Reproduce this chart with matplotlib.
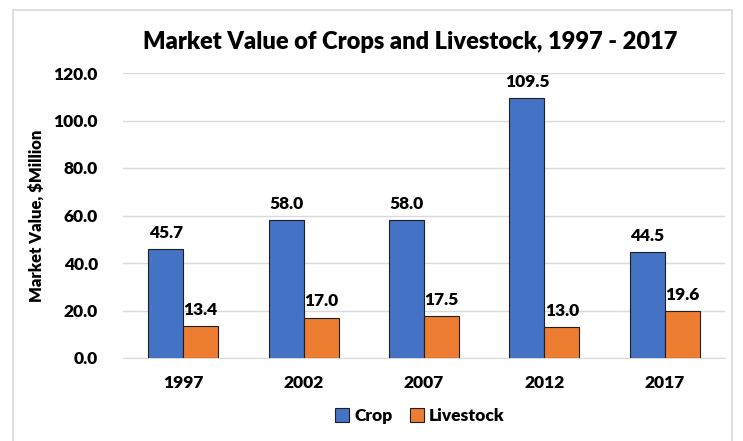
import numpy as np
import matplotlib.pyplot as plt
from matplotlib.patches import Rectangle

plt.rcParams['font.family'] = ['Lato', 'DejaVu Sans']
plt.rcParams['font.weight'] = 'bold'

years = ["1997", "2002", "2007", "2012", "2017"]
crop = [45.7, 58.0, 58.0, 109.5, 44.5]
livestock = [13.4, 17.0, 17.5, 13.0, 19.6]

fig = plt.figure(figsize=(7.43, 4.41), dpi=100)
ax = fig.add_axes([123 / 743, 1 - 358 / 441, 602 / 743, 285 / 441])

# outer light border like the source chart
fig.patches.append(Rectangle((13 / 743, -0.01), 719 / 743, 1 - 10 / 441 + 0.01,
                             transform=fig.transFigure, fill=False,
                             edgecolor="#D9D9D9", linewidth=1.2))

x = np.arange(len(years))
w = 0.29
b1 = ax.bar(x - w / 2, crop, w, color="#4472C4", edgecolor="#1F1F1F",
            linewidth=0.8, label="Crop", zorder=3)
b2 = ax.bar(x + w / 2, livestock, w, color="#ED7D31", edgecolor="#1F1F1F",
            linewidth=0.8, label="Livestock", zorder=3)

for bars, vals in ((b1, crop), (b2, livestock)):
    for r, v in zip(bars, vals):
        ax.text(r.get_x() + r.get_width() / 2, v + 3.5, f"{v:.1f}",
                ha="center", va="bottom", fontsize=12.5, fontweight="heavy")

ax.set_xlim(-0.5, 4.5)
ax.set_ylim(0, 120)
ax.set_yticks(np.arange(0, 121, 20))
ax.set_yticklabels([f"{t:.1f}" for t in np.arange(0, 121, 20)])
ax.set_xticks(x)
ax.set_xticklabels(years)
ax.tick_params(axis="both", length=0, labelsize=12.5)
for lbl in ax.get_xticklabels() + ax.get_yticklabels():
    lbl.set_fontweight("heavy")
ax.tick_params(axis="x", pad=12)
ax.tick_params(axis="y", pad=18)
ax.grid(axis="y", color="#D9D9D9", linewidth=1, zorder=0)
for s in ("top", "right", "left"):
    ax.spines[s].set_visible(False)
ax.spines["bottom"].set_color("#D9D9D9")

ax.set_ylabel("Market Value, $Million", fontsize=12, fontweight="heavy")
ax.yaxis.set_label_coords(-(123 - 45) / 602, 0.5)
fig.text(410 / 743, 1 - 42 / 441, "Market Value of Crops and Livestock, 1997 - 2017",
         ha="center", va="center", fontsize=17, fontweight="heavy")

fig.legend(handles=[b1, b2], loc="center", bbox_to_anchor=(420 / 743, 1 - 416 / 441),
           ncol=2, frameon=False, prop={"size": 12.5, "weight": "heavy"},
           handlelength=0.8, handleheight=0.8,
           handletextpad=0.3, columnspacing=1.0)

fig.savefig("out.png", dpi=100)
